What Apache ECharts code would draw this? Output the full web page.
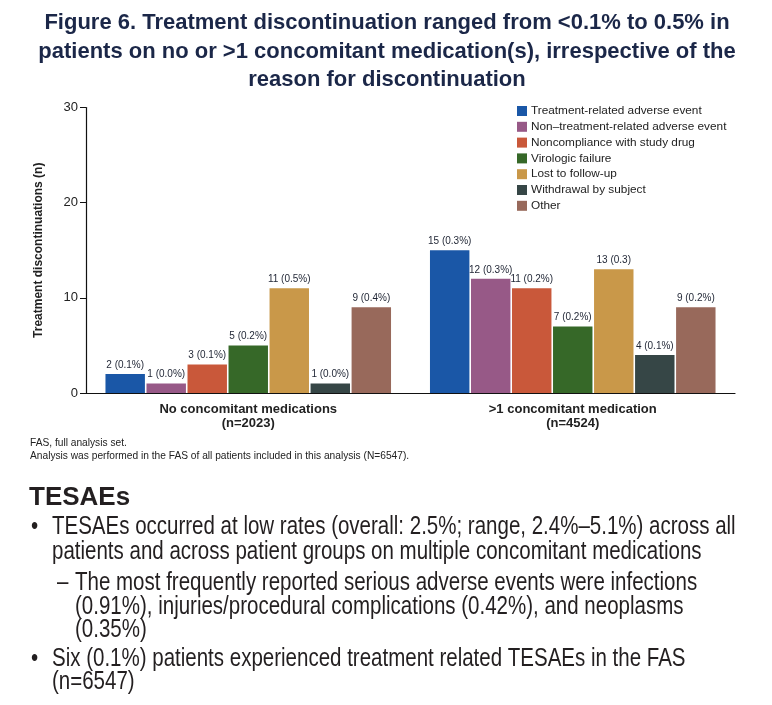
<!DOCTYPE html>
<html><head><meta charset="utf-8">
<script src="https://cdn.jsdelivr.net/npm/echarts@6/dist/echarts.min.js"></script>
<style>html,body{margin:0;padding:0;background:#fff}#c{width:772px;height:705px}</style>
</head><body><div id="c"></div>
<script>
const categories = ['No concomitant medications\n(n=2023)', '>1 concomitant medication\n(n=4524)'];
const seriesNames = ['Treatment-related adverse event','Non\u2013treatment-related adverse event','Noncompliance with study drug','Virologic failure','Lost to follow-up','Withdrawal by subject','Other'];
const trAE = [2, 15];
const nonTrAE = [1, 12];
const noncompliance = [3, 11];
const virologic = [5, 7];
const lostFollowUp = [11, 13];
const withdrawal = [1, 4];
const other = [9, 9];
const pctTrAE = ['0.1%', '0.3%'];
const pctNonTrAE = ['0.0%', '0.3%'];
const pctNoncompliance = ['0.1%', '0.2%'];
const pctVirologic = ['0.2%', '0.2%'];
const pctLost = ['0.5%', '0.3'];
const pctWithdrawal = ['0.0%', '0.1%'];
const pctOther = ['0.4%', '0.2%'];
const yTicks = [0, 10, 20, 30];

const colors = ['#1a57a7','#975987','#c9583a','#366828','#c99849','#364646','#98695b'];
const values = [trAE, nonTrAE, noncompliance, virologic, lostFollowUp, withdrawal, other];
const pcts = [pctTrAE, pctNonTrAE, pctNoncompliance, pctVirologic, pctLost, pctWithdrawal, pctOther];

const FF = '"Liberation Sans", Arial, sans-serif';
const chart = echarts.init(document.getElementById('c'));
const series = seriesNames.map((n, i) => ({
  name: n, type: 'bar', data: values[i],
  itemStyle: {color: colors[i]},
  barGap: '4%', barCategoryGap: '12%',
  label: {show: true, position: 'top', distance: 4, fontSize: 10, color: '#1e2433', fontFamily: FF,
    formatter: p => values[i][p.dataIndex] + ' (' + pcts[i][p.dataIndex] + ')'}
}));
const SX = 0.82;
const body = (x, y, text, lh) => ({type: 'text', x: x, y: y, scaleX: SX,
  style: {text: text, fontSize: 25, lineHeight: lh, fill: '#231f20', fontFamily: FF, verticalAlign: 'top'}});

chart.setOption({
  animation: false,
  color: colors,
  legend: {orient: 'vertical', left: 517, top: 105, padding: 0, itemWidth: 10, itemHeight: 10, itemGap: 3.8, icon: 'rect',
    textStyle: {fontSize: 11.8, color: '#222', fontFamily: FF, padding: [0,0,0,-1]}, data: seriesNames},
  grid: {left: 86, right: 37, top: 107.5, bottom: 312},
  xAxis: {type: 'category', data: categories,
    axisLine: {lineStyle: {color: '#111', width: 1.2}}, axisTick: {show: false},
    axisLabel: {fontSize: 13, fontWeight: 'bold', color: '#222', lineHeight: 14, margin: 9, fontFamily: FF}},
  yAxis: {type: 'value', min: yTicks[0], max: yTicks[yTicks.length-1], interval: 10,
    name: 'Treatment discontinuations (n)', nameLocation: 'middle', nameGap: 41, nameRotate: 90,
    nameTextStyle: {fontSize: 12, fontWeight: 'bold', color: '#222', fontFamily: FF},
    axisLine: {show: true, lineStyle: {color: '#111', width: 1.2}},
    axisTick: {show: true, length: 6, lineStyle: {color: '#111'}},
    splitLine: {show: false},
    axisLabel: {fontSize: 13, color: '#222', margin: 8, fontFamily: FF}},
  series: series,
  graphic: [
    {type: 'text', x: 387, y: 9, 
      style: {text: 'Figure 6. Treatment discontinuation ranged from <0.1% to 0.5% in\npatients on no or >1 concomitant medication(s), irrespective of the\nreason for discontinuation',
        fontSize: 22, fontWeight: 'bold', fill: '#1b2748', lineHeight: 28.5, fontFamily: FF, align: 'center', verticalAlign: 'top'}},
    {type: 'text', left: 30, top: 437, style: {text: 'FAS, full analysis set.\nAnalysis was performed in the FAS of all patients included in this analysis (N=6547).', fontSize: 10.2, lineHeight: 13, fill: '#222', fontFamily: FF}},
    {type: 'text', left: 29, top: 485, style: {text: 'TESAEs', fontSize: 26, fontWeight: 'bold', fill: '#231f20', fontFamily: FF}},
    body(31, 515, '\u2022', 25),
    body(52, 515, 'TESAEs occurred at low rates (overall: 2.5%; range, 2.4%\u20135.1%) across all\npatients and across patient groups on multiple concomitant medications', 25),
    body(57, 571.5, '\u2013', 23.5),
    body(75, 571.5, 'The most frequently reported serious adverse events were infections\n(0.91%), injuries/procedural complications (0.42%), and neoplasms\n(0.35%)', 23.5),
    body(31, 647, '\u2022', 23.5),
    body(52, 647, 'Six (0.1%) patients experienced treatment related TESAEs in the FAS\n(n=6547)', 23.5)
  ]
});
</script></body></html>
